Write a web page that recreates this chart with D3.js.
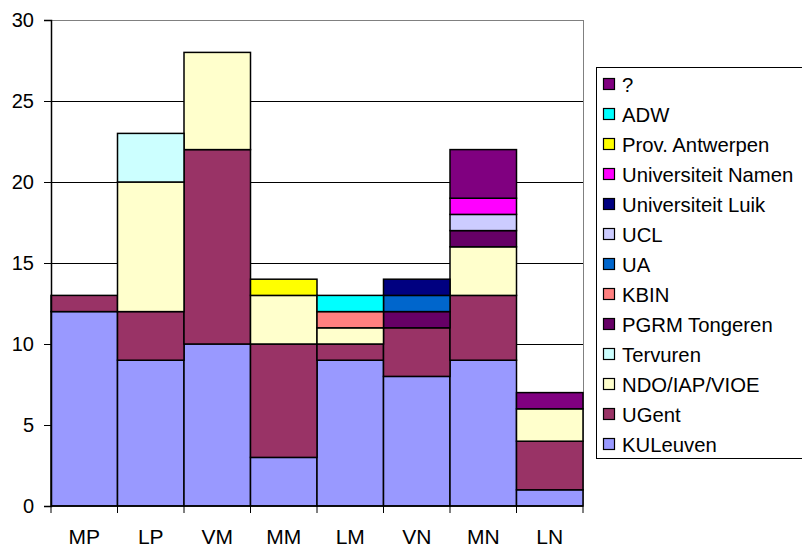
<!DOCTYPE html>
<html><head><meta charset="utf-8">
<script src="https://cdn.jsdelivr.net/npm/d3@7/dist/d3.min.js"></script>
<style>body{margin:0;background:#fff;} svg{display:block;font-family:Arial,"Liberation Sans",sans-serif;}</style>
</head><body><svg id="c" width="802" height="547"></svg>
<script>
const categories = ["MP","LP","VM","MM","LM","VN","MN","LN"];
const seriesNames = ["KULeuven","UGent","NDO/IAP/VIOE","Tervuren","PGRM Tongeren","KBIN","UA","UCL","Universiteit Luik","Universiteit Namen","Prov. Antwerpen","ADW","?"];
const seriesColors = ["#9999FF","#993366","#FFFFCC","#CCFFFF","#660066","#FF8080","#0066CC","#CCCCFF","#000080","#FF00FF","#FFFF00","#00FFFF","#800080"];
const KULeuven   = [12, 9,10, 3, 9, 8, 9, 1];
const UGent      = [ 1, 3,12, 7, 1, 3, 4, 3];
const NDO        = [ 0, 8, 6, 3, 1, 0, 3, 2];
const Tervuren   = [ 0, 3, 0, 0, 0, 0, 0, 0];
const PGRM       = [ 0, 0, 0, 0, 0, 1, 1, 0];
const KBIN       = [ 0, 0, 0, 0, 1, 0, 0, 0];
const UA         = [ 0, 0, 0, 0, 0, 1, 0, 0];
const UCL        = [ 0, 0, 0, 0, 0, 0, 1, 0];
const Luik       = [ 0, 0, 0, 0, 0, 1, 0, 0];
const Namen      = [ 0, 0, 0, 0, 0, 0, 1, 0];
const ProvAntw   = [ 0, 0, 0, 1, 0, 0, 0, 0];
const ADW        = [ 0, 0, 0, 0, 1, 0, 0, 0];
const Unknown    = [ 0, 0, 0, 0, 0, 0, 3, 1];
const yTicks = [0,5,10,15,20,25,30];

const seriesValues = [KULeuven,UGent,NDO,Tervuren,PGRM,KBIN,UA,UCL,Luik,Namen,ProvAntw,ADW,Unknown];
const table = categories.map((c,i)=>{const o={cat:c}; seriesNames.forEach((s,j)=>o[s]=seriesValues[j][i]); return o;});

const svg = d3.select("#c");
const L=51, R=583, T=20, B=506;
const x = d3.scaleBand().domain(categories).range([L,R]).padding(0);
const y = d3.scaleLinear().domain([0,30]).range([B,T]);

// gridlines
svg.append("g").selectAll("line").data(yTicks.filter(d=>d>0&&d<30)).join("line")
  .attr("x1",L).attr("x2",R).attr("y1",d=>y(d)).attr("y2",d=>y(d))
  .attr("stroke","#000").attr("stroke-width",1).attr("shape-rendering","crispEdges");
// plot border top/right
svg.append("path").attr("d",`M${L},${T}H${R}V${B}`).attr("fill","none").attr("stroke","#808080").attr("stroke-width",1).attr("shape-rendering","crispEdges");

const stack = d3.stack().keys(seriesNames);
const layers = stack(table);
svg.append("g").selectAll("g").data(layers).join("g")
  .attr("fill",(d,i)=>seriesColors[i])
  .selectAll("rect").data(d=>d.filter(p=>p[1]-p[0]>0)).join("rect")
  .attr("x",d=>x(d.data.cat)).attr("width",x.bandwidth())
  .attr("y",d=>y(d[1])).attr("height",d=>y(d[0])-y(d[1]))
  .attr("stroke","#000").attr("stroke-width",1.5);

// axes
const ya = svg.append("g").attr("transform",`translate(${L},0)`)
  .call(d3.axisLeft(y).tickValues(yTicks).tickSize(7).tickPadding(10));
ya.select(".domain").attr("stroke","#000").attr("stroke-width",1.5);
ya.selectAll(".tick line").attr("stroke","#000");
ya.selectAll("text").attr("font-size",20).attr("fill","#000").attr("font-family","Arial,'Liberation Sans',sans-serif");

const xa = svg.append("g").attr("transform",`translate(0,${B})`)
  .call(d3.axisBottom(x).tickSize(0).tickPadding(23));
xa.select(".domain").remove();
xa.selectAll("text").attr("font-size",21).attr("fill","#000").attr("font-family","Arial,'Liberation Sans',sans-serif");
svg.append("line").attr("x1",L).attr("x2",R).attr("y1",B).attr("y2",B).attr("stroke","#000").attr("stroke-width",1.5);
svg.append("g").selectAll("line").data(d3.range(categories.length+1)).join("line")
  .attr("x1",i=>L+i*x.step()).attr("x2",i=>L+i*x.step()).attr("y1",B).attr("y2",B+7)
  .attr("stroke","#000").attr("stroke-width",1);

// legend
const lg = svg.append("g");
lg.append("rect").attr("x",596.5).attr("y",67.5).attr("width",220).attr("height",391)
  .attr("fill","#fff").attr("stroke","#000").attr("stroke-width",1);
const order = d3.range(seriesNames.length).reverse();
const items = lg.selectAll("g.it").data(order).join("g").attr("class","it")
  .attr("transform",(d,i)=>`translate(0,${84+30*i})`);
items.append("rect").attr("x",603.5).attr("y",-5.5).attr("width",11).attr("height",11)
  .attr("fill",d=>seriesColors[d]).attr("stroke","#000").attr("stroke-width",1.2);
items.append("text").attr("x",622).attr("y",7.5).attr("font-size",20.3).attr("fill","#000")
  .text(d=>seriesNames[d]);
</script></body></html>
